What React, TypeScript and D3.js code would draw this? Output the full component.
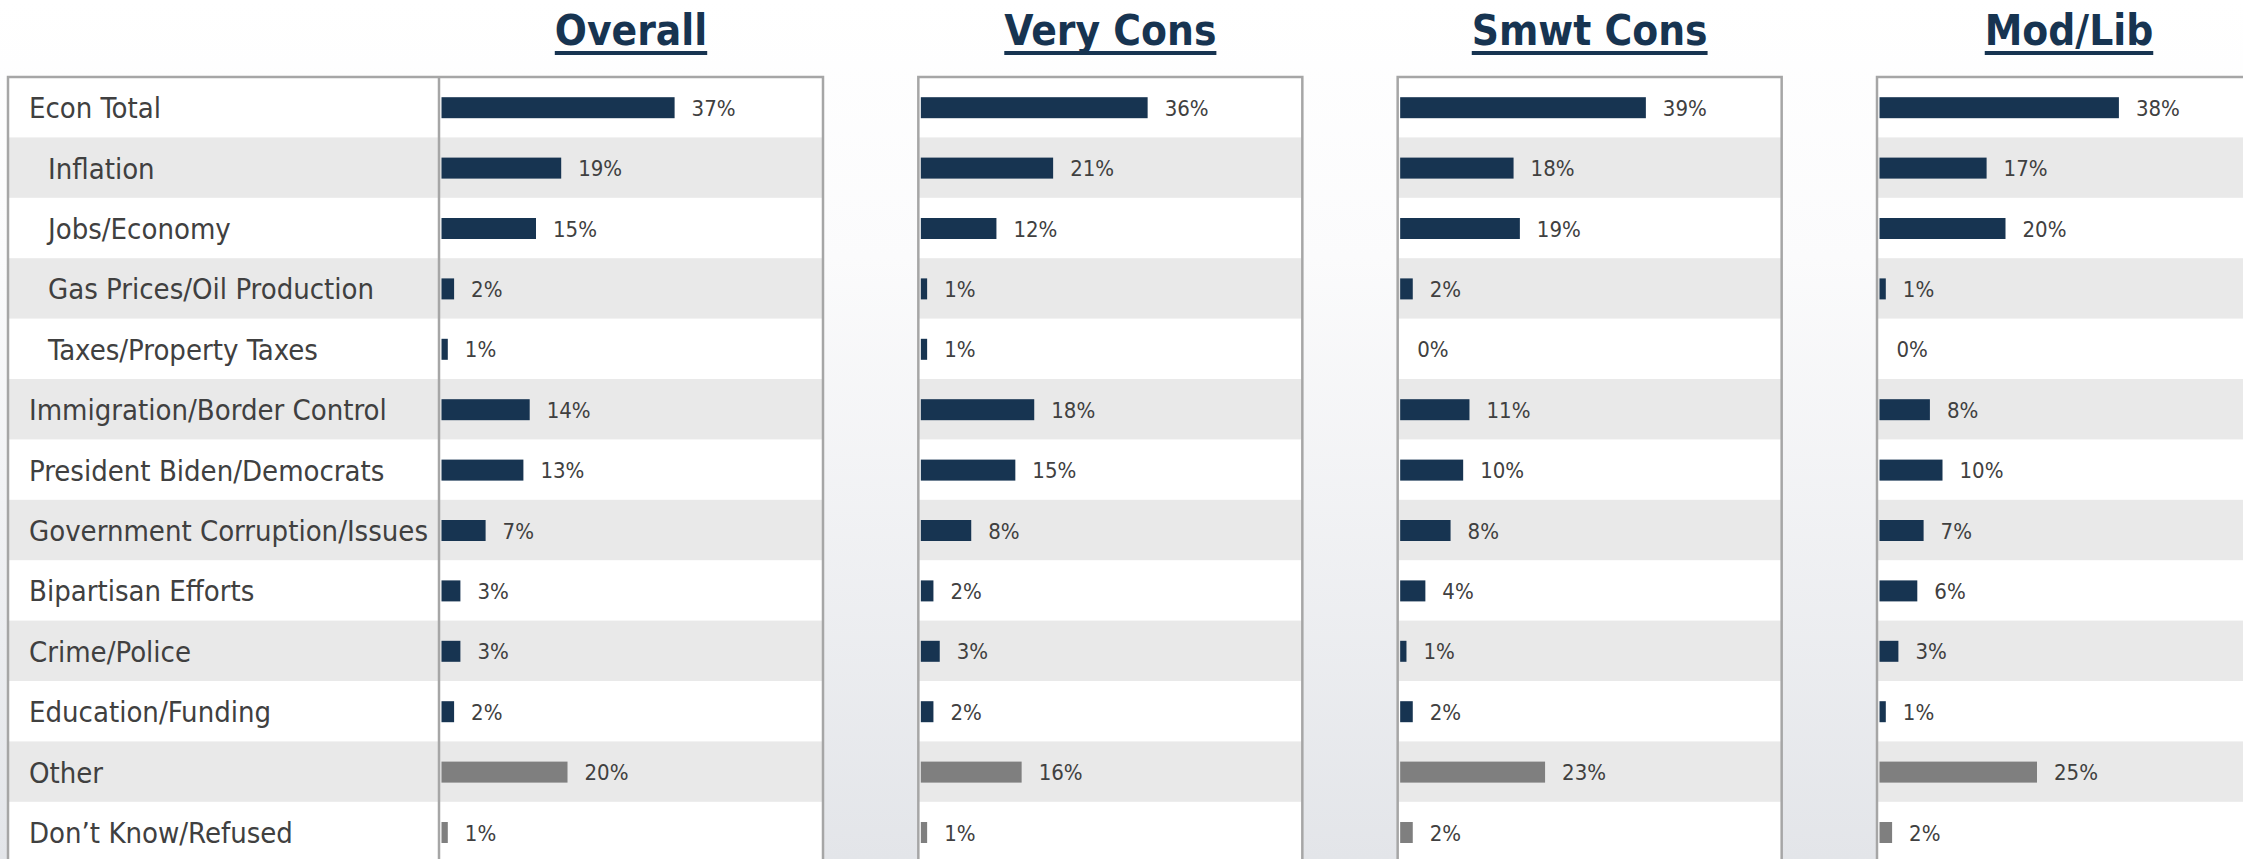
import React, { useEffect, useRef } from 'react';
import * as d3 from 'd3';

const W = 2243;
const H = 859;

const categories = [
  'Econ Total',
  'Inflation',
  'Jobs/Economy',
  'Gas Prices/Oil Production',
  'Taxes/Property Taxes',
  'Immigration/Border Control',
  'President Biden/Democrats',
  'Government Corruption/Issues',
  'Bipartisan Efforts',
  'Crime/Police',
  'Education/Funding',
  'Other',
  'Don’t Know/Refused',
];
const subItems = ['Inflation', 'Jobs/Economy', 'Gas Prices/Oil Production', 'Taxes/Property Taxes'];
const mutedItems = ['Other', 'Don’t Know/Refused'];

const groups = ['Overall', 'Very Cons', 'Smwt Cons', 'Mod/Lib'];
const overall = [37, 19, 15, 2, 1, 14, 13, 7, 3, 3, 2, 20, 1];
const veryCons = [36, 21, 12, 1, 1, 18, 15, 8, 2, 3, 2, 16, 1];
const smwtCons = [39, 18, 19, 2, 0, 11, 10, 8, 4, 1, 2, 23, 2];
const modLib = [38, 17, 20, 1, 0, 8, 10, 7, 6, 3, 1, 25, 2];
const groupValues = [overall, veryCons, smwtCons, modLib];

const NAVY = '#173451';
const GRAY = '#7f7f7f';
const BORDER = '#a6a6a6';
const TEXT = '#404040';
const FONT = '"DejaVu Sans Condensed", "DejaVu Sans", sans-serif';

const top = 77;
const rowH = 60.4;
const labelLeft = 8;
const panelW = 384;

const y = d3.scaleBand()
  .domain(categories)
  .range([top, top + rowH * categories.length]);

const x = d3.scaleLinear()
  .domain([0, 40])
  .range([0, 252]);

const panelX = d3.scaleLinear()
  .domain([0, groups.length - 1])
  .range([439, 1877]);

export default function App() {
  const ref = useRef(null);

  useEffect(() => {
    const svg = d3.select(ref.current);
    svg.selectAll('*').remove();

    const grad = svg.append('defs').append('linearGradient')
      .attr('id', 'bg').attr('x1', 0).attr('y1', 0).attr('x2', 0).attr('y2', 1);
    grad.append('stop').attr('offset', '0%').attr('stop-color', '#ffffff');
    grad.append('stop').attr('offset', '30%').attr('stop-color', '#fbfbfc');
    grad.append('stop').attr('offset', '100%').attr('stop-color', '#e3e5e9');

    svg.append('rect').attr('width', W).attr('height', H).attr('fill', 'url(#bg)');

    const boxBottom = H + 20;

    // label column + overall box background
    svg.append('rect')
      .attr('x', labelLeft).attr('y', top)
      .attr('width', panelX(0) + panelW - labelLeft).attr('height', boxBottom - top)
      .attr('fill', '#fff');
    groups.slice(1).forEach((g, i) => {
      svg.append('rect')
        .attr('x', panelX(i + 1)).attr('y', top)
        .attr('width', panelW).attr('height', boxBottom - top)
        .attr('fill', '#fff');
    });

    // striped rows
    const striped = categories.filter((c, i) => i % 2 === 1);
    svg.append('g').selectAll('rect')
      .data(striped)
      .enter().append('rect')
      .attr('x', labelLeft).attr('y', d => y(d))
      .attr('width', panelX(0) + panelW - labelLeft).attr('height', y.bandwidth())
      .attr('fill', '#e9e9e9');
    groups.slice(1).forEach((g, i) => {
      svg.append('g').selectAll('rect')
        .data(striped)
        .enter().append('rect')
        .attr('x', panelX(i + 1)).attr('y', d => y(d))
        .attr('width', panelW).attr('height', y.bandwidth())
        .attr('fill', '#e9e9e9');
    });

    // borders
    svg.append('rect')
      .attr('x', labelLeft).attr('y', top)
      .attr('width', panelX(0) + panelW - labelLeft).attr('height', boxBottom - top)
      .attr('fill', 'none').attr('stroke', BORDER).attr('stroke-width', 2.5);
    svg.append('line')
      .attr('x1', panelX(0)).attr('x2', panelX(0))
      .attr('y1', top).attr('y2', boxBottom)
      .attr('stroke', BORDER).attr('stroke-width', 2.5);
    groups.slice(1).forEach((g, i) => {
      svg.append('rect')
        .attr('x', panelX(i + 1)).attr('y', top)
        .attr('width', panelW).attr('height', boxBottom - top)
        .attr('fill', 'none').attr('stroke', BORDER).attr('stroke-width', 2.5);
    });

    // category labels
    svg.append('g').selectAll('text')
      .data(categories)
      .enter().append('text')
      .attr('x', d => subItems.includes(d) ? 48 : 29)
      .attr('y', d => y(d) + y.bandwidth() / 2 + 1)
      .attr('dominant-baseline', 'central')
      .attr('font-family', FONT)
      .attr('font-stretch', 'condensed')
      .attr('font-size', 29)
      .attr('fill', TEXT)
      .text(d => d);

    // panels
    groups.forEach((g, gi) => {
      const px = panelX(gi);
      const values = groupValues[gi];
      const cx = px + panelW / 2;

      const title = svg.append('text')
        .attr('x', cx).attr('y', 45)
        .attr('text-anchor', 'middle')
        .attr('font-family', FONT)
        .attr('font-stretch', 'condensed')
        .attr('font-weight', 'bold')
        .attr('font-size', 42)
        .attr('fill', NAVY)
        .text(g);
      const tw = (title.node() as SVGTextElement).getBBox().width;
      svg.append('rect')
        .attr('x', cx - tw / 2).attr('y', 51)
        .attr('width', tw).attr('height', 4)
        .attr('fill', NAVY);

      const chart = svg.append('g').attr('transform', `translate(${px + 2.5}, 0)`);

      chart.selectAll('rect')
        .data(values)
        .enter().append('rect')
        .attr('x', 0)
        .attr('y', (d, i) => y(categories[i]) + y.bandwidth() / 2 - 10)
        .attr('width', d => x(d))
        .attr('height', 21)
        .attr('fill', (d, i) => mutedItems.includes(categories[i]) ? GRAY : NAVY);

      chart.selectAll('text')
        .data(values)
        .enter().append('text')
        .attr('x', d => x(d) + 17)
        .attr('y', (d, i) => y(categories[i]) + y.bandwidth() / 2 + 1)
        .attr('dominant-baseline', 'central')
        .attr('font-family', FONT)
        .attr('font-stretch', 'condensed')
        .attr('font-size', 22)
        .attr('fill', TEXT)
        .text(d => `${d}%`);
    });
  }, []);

  return (
    <>
      <style>{'body{margin:0;overflow:hidden}'}</style>
      <svg ref={ref} width={W} height={H} style={{ display: 'block' }} />
    </>
  );
}
